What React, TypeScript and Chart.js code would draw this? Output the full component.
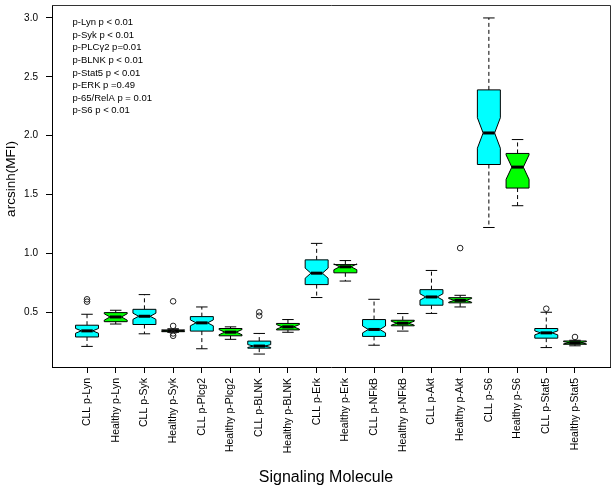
import React, { useEffect, useRef } from "react";
import { Chart, registerables } from "chart.js";

Chart.register(...registerables);

// ---------- data ----------
const categories = [
  "CLL p-Lyn", "Healthy p-Lyn", "CLL p-Syk", "Healthy p-Syk",
  "CLL p-Plcg2", "Healthy p-Plcg2", "CLL p-BLNK", "Healthy p-BLNK",
  "CLL p-Erk", "Healthy p-Erk", "CLL p-NFkB", "Healthy p-NFkB",
  "CLL p-Akt", "Healthy p-Akt", "CLL p-S6", "Healthy p-S6",
  "CLL p-Stat5", "Healthy p-Stat5",
];
const lowerWhisker = [0.21, 0.40, 0.317, 0.33, 0.19, 0.27, 0.145, 0.33, 0.625, 0.765, 0.22, 0.34, 0.49, 0.545, 1.22, 1.405, 0.20, 0.215];
const lowerQuartile = [0.29, 0.42, 0.396, 0.335, 0.34, 0.30, 0.195, 0.35, 0.735, 0.835, 0.295, 0.385, 0.56, 0.58, 1.755, 1.555, 0.28, 0.228];
const medians = [0.342, 0.46, 0.466, 0.342, 0.41, 0.331, 0.213, 0.376, 0.832, 0.886, 0.354, 0.407, 0.63, 0.601, 2.023, 1.733, 0.325, 0.241];
const upperQuartile = [0.39, 0.497, 0.525, 0.35, 0.463, 0.362, 0.255, 0.405, 0.945, 0.905, 0.438, 0.432, 0.692, 0.624, 2.389, 1.849, 0.362, 0.256];
const upperWhisker = [0.483, 0.517, 0.65, 0.36, 0.545, 0.376, 0.32, 0.438, 1.085, 0.939, 0.61, 0.489, 0.855, 0.644, 3.0, 1.967, 0.50, 0.262];
const sampleSize = [60, 20, 60, 20, 60, 20, 60, 20, 60, 20, 60, 20, 60, 20, 60, 20, 60, 20];
const outlierGroup = [1, 1, 4, 4, 4, 4, 7, 7, 14, 17, 18];
const outlierValue = [0.59, 0.61, 0.593, 0.384, 0.32, 0.30, 0.47, 0.50, 1.045, 0.53, 0.29];
const groupColors = ["#00FFFF", "#00FF00"];
const yTicks = [0.5, 1.0, 1.5, 2.0, 2.5, 3.0];
const pValueNotes = [
  "p-Lyn p < 0.01",
  "p-Syk p < 0.01",
  "p-PLC\u03B32 p=0.01",
  "p-BLNK p < 0.01",
  "p-Stat5 p < 0.01",
  "p-ERK p =0.49",
  "p-65/RelA p = 0.01",
  "p-S6 p < 0.01",
];
const xTitle = "Signaling Molecule";
const yTitle = "arcsinh(MFI)";

const FONT = "'Liberation Sans', Arial, Helvetica, sans-serif";

const boxPlugin = {
  id: "notchedBoxes",
  beforeDatasetsDraw(chart: any) {
    const { ctx, scales } = chart;
    const xs = scales.x;
    const ys = scales.y;
    const halfBox = 0.4;
    const notchHalf = 0.2;
    ctx.save();
    for (let i = 0; i < categories.length; i++) {
      const c = i + 1;
      const iqr = upperQuartile[i] - lowerQuartile[i];
      const nd = (1.58 * iqr) / Math.sqrt(sampleSize[i]);
      const nLo = medians[i] - nd;
      const nHi = medians[i] + nd;
      const X = (v: number) => xs.getPixelForValue(v);
      const Y = (v: number) => ys.getPixelForValue(v);
      const cx = X(c);

      // whiskers (dashed)
      ctx.strokeStyle = "#000";
      ctx.lineWidth = 1;
      ctx.setLineDash([4, 3]);
      ctx.beginPath();
      ctx.moveTo(cx, Y(upperQuartile[i]));
      ctx.lineTo(cx, Y(upperWhisker[i]));
      ctx.moveTo(cx, Y(lowerQuartile[i]));
      ctx.lineTo(cx, Y(lowerWhisker[i]));
      ctx.stroke();
      ctx.setLineDash([]);
      // caps
      ctx.beginPath();
      ctx.moveTo(X(c - notchHalf), Y(upperWhisker[i]));
      ctx.lineTo(X(c + notchHalf), Y(upperWhisker[i]));
      ctx.moveTo(X(c - notchHalf), Y(lowerWhisker[i]));
      ctx.lineTo(X(c + notchHalf), Y(lowerWhisker[i]));
      ctx.stroke();

      // notched box
      ctx.beginPath();
      ctx.moveTo(X(c - halfBox), Y(lowerQuartile[i]));
      ctx.lineTo(X(c - halfBox), Y(nLo));
      ctx.lineTo(X(c - notchHalf), Y(medians[i]));
      ctx.lineTo(X(c - halfBox), Y(nHi));
      ctx.lineTo(X(c - halfBox), Y(upperQuartile[i]));
      ctx.lineTo(X(c + halfBox), Y(upperQuartile[i]));
      ctx.lineTo(X(c + halfBox), Y(nHi));
      ctx.lineTo(X(c + notchHalf), Y(medians[i]));
      ctx.lineTo(X(c + halfBox), Y(nLo));
      ctx.lineTo(X(c + halfBox), Y(lowerQuartile[i]));
      ctx.closePath();
      ctx.fillStyle = groupColors[i % 2];
      ctx.fill();
      ctx.strokeStyle = "#000";
      ctx.lineWidth = 1;
      ctx.stroke();

      // median
      ctx.beginPath();
      ctx.lineWidth = 3;
      ctx.moveTo(X(c - notchHalf), Y(medians[i]));
      ctx.lineTo(X(c + notchHalf), Y(medians[i]));
      ctx.stroke();
    }
    ctx.restore();
  },
  afterDraw(chart: any) {
    const { ctx, chartArea } = chart;
    ctx.save();
    // frame top / right
    ctx.strokeStyle = "#333";
    ctx.lineWidth = 1;
    ctx.beginPath();
    ctx.moveTo(chartArea.left, chartArea.top + 0.5);
    ctx.lineTo(chartArea.right + 0.5, chartArea.top + 0.5);
    ctx.lineTo(chartArea.right + 0.5, chartArea.bottom);
    ctx.stroke();

    // p-value notes
    ctx.fillStyle = "#000";
    ctx.font = `9.5px ${FONT}`;
    ctx.textAlign = "left";
    ctx.textBaseline = "middle";
    pValueNotes.forEach((t, k) => {
      ctx.fillText(t, 72.5, 22.7 + 12.57 * k);
    });

    // axis titles
    ctx.font = `16px ${FONT}`;
    ctx.textAlign = "center";
    ctx.textBaseline = "middle";
    ctx.fillText(xTitle, 326, 478);

    ctx.translate(11, 179);
    ctx.rotate(-Math.PI / 2);
    ctx.font = `13.5px ${FONT}`;
    ctx.fillText(yTitle, 0, 0);
    ctx.restore();
  },
};

export default function App() {
  const ref = useRef<HTMLCanvasElement>(null);
  useEffect(() => {
    const outlierPoints = outlierGroup.map((g, k) => ({ x: g, y: outlierValue[k] }));
    const chart = new Chart(ref.current as HTMLCanvasElement, {
      type: "scatter",
      data: {
        datasets: [
          {
            label: "outliers",
            data: outlierPoints,
            pointStyle: "circle",
            pointRadius: 2.8,
            borderWidth: 1,
            borderColor: "#222",
            backgroundColor: "rgba(0,0,0,0)",
          },
        ],
      },
      options: {
        responsive: false,
        animation: false,
        layout: { padding: { top: 3, right: 4, left: 0, bottom: 0 } },
        plugins: { legend: { display: false }, tooltip: { enabled: false } },
        scales: {
          x: {
            type: "linear",
            min: -0.22,
            max: 19.22,
            afterBuildTicks: (axis: any) => {
              axis.ticks = categories.map((_, i) => ({ value: i + 1 }));
            },
            afterFit: (s: any) => {
              s.height = 123;
              s.paddingLeft = 0;
              s.paddingRight = 0;
              s.paddingTop = 0;
              s.paddingBottom = 0;
            },
            grid: { drawOnChartArea: false, drawTicks: true, tickLength: 6, color: "#000" },
            border: { display: true, color: "#000", width: 1 },
            ticks: {
              autoSkip: false,
              minRotation: 90,
              maxRotation: 90,
              padding: 5,
              color: "#000",
              font: { size: 10.5, family: FONT },
              callback: (v: any) => categories[Math.round(Number(v)) - 1] ?? "",
            },
          },
          y: {
            type: "linear",
            min: 0.035,
            max: 3.11,
            afterBuildTicks: (axis: any) => {
              axis.ticks = yTicks.map((v) => ({ value: v }));
            },
            afterFit: (s: any) => {
              s.width = 52;
              s.paddingLeft = 0;
              s.paddingRight = 0;
              s.paddingTop = 0;
              s.paddingBottom = 0;
            },
            grid: { drawOnChartArea: false, drawTicks: true, tickLength: 6, color: "#000" },
            border: { display: true, color: "#000", width: 1 },
            ticks: {
              padding: 8,
              color: "#000",
              font: { size: 10, family: FONT },
              callback: (v: any) => Number(v).toFixed(1),
            },
          },
        },
      },
      plugins: [boxPlugin],
    } as any);
    return () => chart.destroy();
  }, []);
  return (
    <div style={{ position: "absolute", left: 0, top: 0, width: 615, height: 490, background: "#fff" }}>
      <canvas ref={ref} width={615} height={490} style={{ display: "block" }} />
    </div>
  );
}
